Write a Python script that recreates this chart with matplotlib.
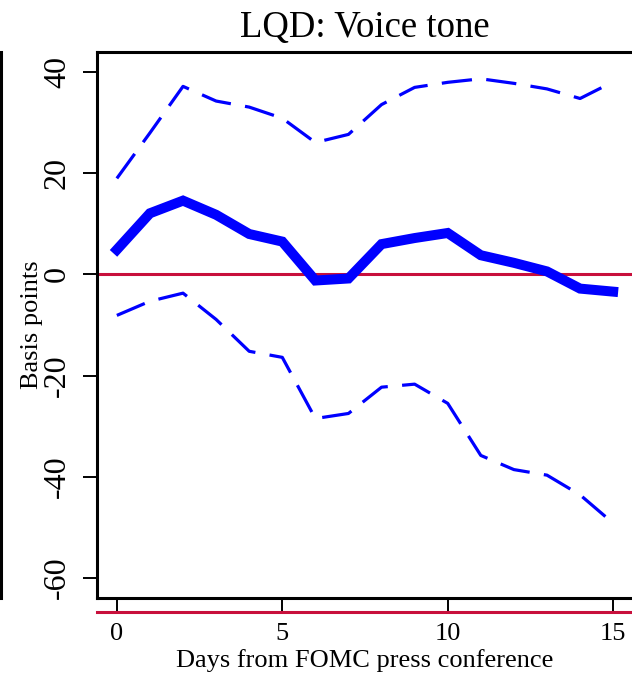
import matplotlib
matplotlib.use('Agg')
import matplotlib.pyplot as plt
from matplotlib.lines import Line2D

days = list(range(16))
estimate = [4.9, 12.1, 14.6, 11.8, 8.0, 6.5, -1.2, -0.8, 6.0, 7.2, 8.2,
            3.8, 2.3, 0.6, -2.8, -3.4]
upper = [19.0, 28.0, 37.2, 34.3, 33.1, 30.9, 26.1, 27.7, 33.6, 37.0, 38.0,
         38.7, 37.8, 36.7, 34.8, 38.1]
lower = [-8.1, -5.3, -3.7, -8.9, -15.2, -16.4, -28.5, -27.5, -22.3, -21.7,
         -25.5, -35.8, -38.6, -39.7, -43.6, -49.2]

x_ticks = [0, 5, 10, 15]
y_ticks = [-60, -40, -20, 0, 20, 40]

plt.rcParams['font.family'] = ['Liberation Serif', 'DejaVu Serif']

fig = plt.figure(figsize=(6.32, 6.75), dpi=100)
ax = fig.add_axes([97 / 632, 77 / 675, 536 / 632, 546 / 675])

red = '#C8103C'
ax.axhline(0, color=red, lw=2.2, zorder=1)
ax.plot(days, upper, color='#0000FF', lw=2.3, dashes=(9.5, 4.5),
        solid_capstyle='butt', zorder=2)
ax.plot(days, lower, color='#0000FF', lw=2.3, dashes=(9.5, 4.5),
        solid_capstyle='butt', zorder=2)
ax.plot(days, estimate, color='#0000FF', lw=7.2, solid_joinstyle='miter',
        zorder=3)

ax.set_xlim(-0.6, 15.6)
ax.set_ylim(-64, 44)
ax.set_xticks(x_ticks)
ax.set_yticks(y_ticks)
ax.tick_params(axis='both', direction='out', length=10, width=1.4,
               color='black')
ax.tick_params(axis='x', labelsize=19, pad=8)
ax.tick_params(axis='y', labelsize=23, pad=8)
ax.set_yticklabels([str(v) for v in y_ticks], rotation=90, va='center')

for side in ['left', 'top', 'bottom']:
    ax.spines[side].set_linewidth(2.2)
ax.spines['right'].set_visible(False)

ax.set_title('LQD: Voice tone', fontsize=26.5, pad=11)
ax.set_xlabel('Days from FOMC press conference', fontsize=19, labelpad=3)
ax.set_ylabel('Basis points', fontsize=19, labelpad=0)

# bits of the neighbouring panels that show at the edges
fig.add_artist(Line2D([1 / 632, 1 / 632], [77 / 675, 623 / 675],
                      color='black', lw=2.2, transform=fig.transFigure))
fig.add_artist(Line2D([97 / 632, 1.0], [63.5 / 675, 63.5 / 675],
                      color=red, lw=2.2, transform=fig.transFigure))

fig.savefig('out.png', dpi=100)
